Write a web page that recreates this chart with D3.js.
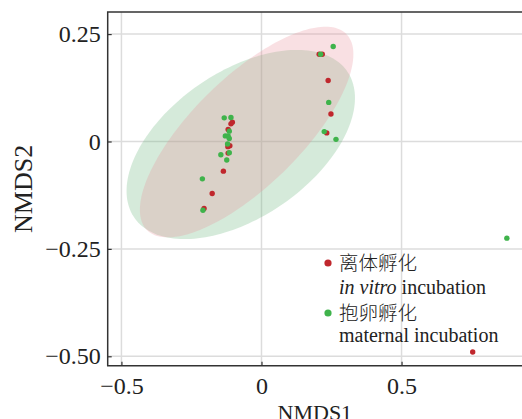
<!DOCTYPE html>
<html>
<head>
<meta charset="utf-8">
<script src="https://cdn.jsdelivr.net/npm/d3@7"></script>
<style>
  body { margin: 0; background: #fff; }
  svg { display: block; }
</style>
</head>
<body>
<script>
// variables:
var w = 522
var h = 419
var padLeft = 107.7
var padTop = 12
var padRight = 522
var padBottom = 365.7

// data
var groups = ['离体孵化', '抱卵孵化']
var groupsEn = ['in vitro incubation', 'maternal incubation']
var colors = ['#c0272d', '#3fb34b']

var redX = [0.206, 0.217, 0.238, 0.248, 0.233, -0.104, -0.109, -0.119, -0.113, -0.120, -0.119, -0.136, -0.176, -0.205, 0.754]
var redY = [0.203, 0.203, 0.142, 0.064, 0.020, 0.045, 0.041, 0.028, -0.010, -0.012, -0.027, -0.069, -0.121, -0.156, -0.490]

var greenX = [0.256, 0.211, 0.240, 0.224, 0.266, -0.133, -0.109, -0.115, -0.129, -0.119, -0.115, -0.121, -0.115, -0.145, -0.124, -0.211, -0.209, 0.876]
var greenY = [0.221, 0.203, 0.091, 0.023, 0.005, 0.055, 0.056, 0.024, 0.013, 0.013, 0.007, -0.006, -0.026, -0.031, -0.043, -0.087, -0.160, -0.225]

// confidence ellipses: centre and covariance (xx, yy, xy)
var ellipseCenters = [[-0.053, 0.022], [-0.074, -0.007]]
var ellipseCov = [[0.1452, 0.0601, 0.0690], [0.1662, 0.0485, 0.0441]]
var ellipseFills = ['rgb(232,145,155)', 'rgb(115,185,132)']

var xTicks = [-0.5, 0, 0.5]
var xTickLabels = ['\u22120.5', '0', '0.5']
var yTicks = [0.25, 0, -0.25, -0.5]
var yTickLabels = ['0.25', '0', '\u22120.25', '\u22120.50']

var svg = d3.select('body')
  .append('svg')
  .attr('width', w)
  .attr('height', h)

var xScale = d3.scaleLinear()
  .domain([-0.549, 0.930])
  .range([padLeft, padRight])

var yScale = d3.scaleLinear()
  .domain([-0.5219, 0.3014])
  .range([padBottom, padTop])

// grid
svg.selectAll('.gx')
  .data(xTicks)
  .enter()
  .append('line')
  .attr('x1', function (d) { return xScale(d) })
  .attr('x2', function (d) { return xScale(d) })
  .attr('y1', padTop)
  .attr('y2', padBottom)
  .attr('stroke', '#dcdcdc')
  .attr('stroke-width', 1.5)

svg.selectAll('.gy')
  .data(yTicks)
  .enter()
  .append('line')
  .attr('x1', padLeft)
  .attr('x2', padRight)
  .attr('y1', function (d) { return yScale(d) })
  .attr('y2', function (d) { return yScale(d) })
  .attr('stroke', '#dcdcdc')
  .attr('stroke-width', 1.5)

// ellipses (green first, pink on top)
var angles = d3.range(0, 2 * Math.PI + 0.01, Math.PI / 90)
var ellipseLine = d3.line()
  .x(function (d) { return xScale(d[0]) })
  .y(function (d) { return yScale(d[1]) })

var ellipseOrder = [1, 0]
ellipseOrder.forEach(function (i) {
  var c = ellipseCenters[i]
  var cov = ellipseCov[i]
  var a = Math.sqrt(cov[0])
  var b = cov[2] / a
  var cc = Math.sqrt(cov[1] - b * b)
  var pts = angles.map(function (t) {
    return [c[0] + a * Math.cos(t), c[1] + b * Math.cos(t) + cc * Math.sin(t)]
  })
  svg.append('path')
    .attr('d', ellipseLine(pts))
    .attr('fill', ellipseFills[i])
    .attr('fill-opacity', i === 0 ? 0.28 : 0.3)
    .attr('stroke', 'none')
})

// points
var redData = redX.map(function (x, i) { return [x, redY[i]] })
var greenData = greenX.map(function (x, i) { return [x, greenY[i]] })

svg.selectAll('.red')
  .data(redData)
  .enter()
  .append('circle')
  .attr('cx', function (d) { return xScale(d[0]) })
  .attr('cy', function (d) { return yScale(d[1]) })
  .attr('r', 2.7)
  .attr('fill', colors[0])

svg.selectAll('.green')
  .data(greenData)
  .enter()
  .append('circle')
  .attr('cx', function (d) { return xScale(d[0]) })
  .attr('cy', function (d) { return yScale(d[1]) })
  .attr('r', 2.7)
  .attr('fill', colors[1])

// panel border (left, top, bottom)
svg.append('path')
  .attr('d', 'M' + (padRight + 5) + ',' + padTop + 'H' + padLeft + 'V' + padBottom + 'H' + (padRight + 5))
  .attr('fill', 'none')
  .attr('stroke', '#333')
  .attr('stroke-width', 1.5)

// axes with inward ticks
var xAxis = d3.axisBottom(xScale)
  .tickValues(xTicks)
  .tickSize(-4)
  .tickPadding(11)
  .tickFormat(function (d, i) { return xTickLabels[i] })

var yAxis = d3.axisLeft(yScale)
  .tickValues(yTicks)
  .tickSize(-4)
  .tickPadding(7)
  .tickFormat(function (d, i) { return yTickLabels[i] })

var gx = svg.append('g')
  .attr('transform', 'translate(0,' + padBottom + ')')
  .call(xAxis)
var gy = svg.append('g')
  .attr('transform', 'translate(' + padLeft + ',0)')
  .call(yAxis)

;[gx, gy].forEach(function (g) {
  g.select('.domain').remove()
  g.selectAll('.tick line').attr('stroke', '#333').attr('stroke-width', 1.2)
  g.selectAll('.tick text')
    .attr('fill', '#222')
    .attr('font-family', 'Liberation Serif, serif')
    .attr('font-size', '24px')
})

// axis titles
svg.append('text')
  .text('NMDS1')
  .attr('x', (padLeft + padRight) / 2)
  .attr('y', 420)
  .attr('text-anchor', 'middle')
  .attr('font-family', 'Liberation Serif, serif')
  .attr('font-size', '22px')
  .attr('fill', '#222')

svg.append('text')
  .text('NMDS2')
  .attr('transform', 'translate(32,' + ((padTop + padBottom) / 2) + ') rotate(-90)')
  .attr('text-anchor', 'middle')
  .attr('font-family', 'Liberation Serif, serif')
  .attr('font-size', '26px')
  .attr('fill', '#222')

// legend
var legendY = [263, 313]
groups.forEach(function (g, i) {
  svg.append('circle')
    .attr('cx', 328)
    .attr('cy', legendY[i])
    .attr('r', 3.6)
    .attr('fill', colors[i])
  svg.append('text')
    .text(g)
    .attr('x', 339)
    .attr('y', legendY[i] + 7)
    .attr('font-family', 'Noto Sans CJK SC, sans-serif')
    .attr('font-weight', 300)
    .attr('font-size', '19.5px')
    .attr('fill', '#222')
})

var en1 = svg.append('text')
  .attr('x', 339)
  .attr('y', 294)
  .attr('font-family', 'Liberation Serif, serif')
  .attr('font-size', '20px')
  .attr('fill', '#222')
en1.append('tspan').attr('font-style', 'italic').text('in vitro')
en1.append('tspan').text(' incubation')

svg.append('text')
  .text(groupsEn[1])
  .attr('x', 339)
  .attr('y', 342)
  .attr('font-family', 'Liberation Serif, serif')
  .attr('font-size', '20px')
  .attr('fill', '#222')
</script>
</body>
</html>
